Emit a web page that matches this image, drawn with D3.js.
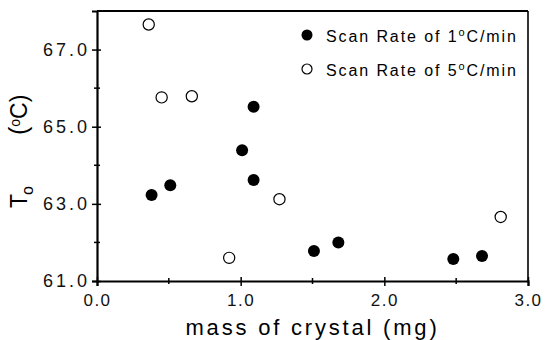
<!DOCTYPE html>
<html>
<head>
<meta charset="utf-8">
<script src="https://cdn.jsdelivr.net/npm/d3@7"></script>
<style>
  body { margin: 0; background: #fff; }
  svg { display: block; font-family: "Liberation Sans", Arial, sans-serif; }
  .axis path, .axis line { stroke: #000; }
  .axis text { fill: #111; }
</style>
</head>
<body>
<svg id="chart" width="545" height="340"></svg>
<script>
// mass of crystal (mg) and onset temperature (oC)
var rate1Mass = [0.38, 0.51, 1.01, 1.09, 1.09, 1.51, 1.68, 2.48, 2.68];
var rate1Temp = [63.23, 63.48, 64.39, 65.52, 63.62, 61.78, 62.00, 61.57, 61.65];
var rate5Mass = [0.36, 0.45, 0.66, 0.92, 1.27, 2.81];
var rate5Temp = [67.65, 65.76, 65.79, 61.60, 63.12, 62.66];

var xTicks = [0, 1, 2, 3];
var xMinor = [0.5, 1.5, 2.5];
var yTicks = [61, 63, 65, 67];
var yMinor = [62, 64, 66];
var legendLabels = ['1', '5'];

var margin = { top: 11, right: 17, bottom: 59, left: 97 };
var width = 545, height = 340;
var graphWidth = width - margin.left - margin.right;
var graphHeight = height - margin.top - margin.bottom;

var svg = d3.select('#chart');

var xScale = d3.scaleLinear().domain([0, 3]).range([0, graphWidth]);
var yScale = d3.scaleLinear().domain([61, 68]).range([graphHeight, 0]);

var graph = svg.append('g').attr('transform', 'translate(' + margin.left + ',' + margin.top + ')');

//Frame (top and right)
graph.append('line').attr('x1', 0).attr('x2', graphWidth).attr('y1', 0).attr('y2', 0)
  .attr('stroke', '#000').attr('stroke-width', 1.8);
graph.append('line').attr('x1', graphWidth).attr('x2', graphWidth).attr('y1', 0).attr('y2', graphHeight)
  .attr('stroke', '#000').attr('stroke-width', 1.6);

//X axis
var xAxis = graph.append('g').classed('axis', true)
  .attr('transform', 'translate(0,' + graphHeight + ')')
  .call(d3.axisBottom(xScale).tickValues(xTicks).tickSizeOuter(0).tickSize(5).tickPadding(8)
    .tickFormat(d3.format('.1f')));
xAxis.select('.domain').attr('stroke-width', 2.2);
xAxis.selectAll('.tick line').attr('y1', -4).attr('stroke-width', 1.5);
xAxis.selectAll('.tick text').attr('font-size', 17).attr('letter-spacing', 1.5);
graph.append('g').selectAll('line').data(xMinor).join('line')
  .attr('x1', function (d) { return xScale(d); }).attr('x2', function (d) { return xScale(d); })
  .attr('y1', graphHeight - 3).attr('y2', graphHeight + 3)
  .attr('stroke', '#000').attr('stroke-width', 1.5);

//Y axis
var yAxis = graph.append('g').classed('axis', true)
  .call(d3.axisLeft(yScale).tickValues(yTicks).tickSizeOuter(0).tickSize(5).tickPadding(2)
    .tickFormat(d3.format('.1f')));
yAxis.select('.domain').attr('stroke-width', 2.2);
yAxis.selectAll('.tick line').attr('x1', 4).attr('stroke-width', 1.5);
yAxis.selectAll('.tick text').attr('font-size', 18).attr('letter-spacing', 3);
graph.append('g').selectAll('line').data(yMinor).join('line')
  .attr('y1', function (d) { return yScale(d); }).attr('y2', function (d) { return yScale(d); })
  .attr('x1', -3).attr('x2', 3)
  .attr('stroke', '#000').attr('stroke-width', 1.5);

//Points
var rate1 = rate1Mass.map(function (m, i) { return { mass: m, temp: rate1Temp[i] }; });
var rate5 = rate5Mass.map(function (m, i) { return { mass: m, temp: rate5Temp[i] }; });

graph.append('g').selectAll('circle').data(rate1).join('circle')
  .attr('cx', function (d) { return xScale(d.mass); })
  .attr('cy', function (d) { return yScale(d.temp); })
  .attr('r', 6).attr('fill', '#000');

graph.append('g').selectAll('circle').data(rate5).join('circle')
  .attr('cx', function (d) { return xScale(d.mass); })
  .attr('cy', function (d) { return yScale(d.temp); })
  .attr('r', 5.6).attr('fill', 'none').attr('stroke', '#000').attr('stroke-width', 1.2);

//Legend
var legend = svg.append('g').attr('transform', 'translate(307,35)');
var rows = legend.selectAll('g').data(legendLabels).join('g')
  .attr('transform', function (d, i) { return 'translate(0,' + (i * 34) + ')'; });
rows.append('circle').attr('r', function (d, i) { return i === 0 ? 5.5 : 5; })
  .attr('fill', function (d, i) { return i === 0 ? '#000' : 'none'; })
  .attr('stroke', '#000').attr('stroke-width', function (d, i) { return i === 0 ? 0 : 1.2; });
var legendText = rows.append('text').attr('x', 19).attr('y', 7)
  .attr('font-size', 16).attr('letter-spacing', 1.9).attr('fill', '#000');
legendText.append('tspan').text(function (d) { return 'Scan Rate of ' + d; });
legendText.append('tspan').attr('dy', -6).attr('font-size', 11).text('o');
legendText.append('tspan').attr('dy', 6).text('C/min');

//X label
svg.append('text').attr('x', margin.left + xScale(1.5)).attr('y', 335)
  .attr('text-anchor', 'middle').attr('font-size', 22).attr('letter-spacing', 2.8)
  .attr('fill', '#000').text('mass of crystal (mg)');

//Y label
var yLabel = svg.append('text').attr('transform', 'translate(27,208) rotate(-90)')
  .attr('font-size', 23).attr('fill', '#000');
yLabel.append('tspan').text('T');
yLabel.append('tspan').attr('dx', -1).attr('dy', 6).attr('font-size', 16).text('o');
yLabel.append('tspan').attr('x', 73).attr('dy', -6).attr('font-size', 25).text('(');
yLabel.append('tspan').attr('dy', -7).attr('font-size', 14).text('o');
yLabel.append('tspan').attr('dy', 7).attr('font-size', 23).text('C)');
</script>
</body>
</html>
